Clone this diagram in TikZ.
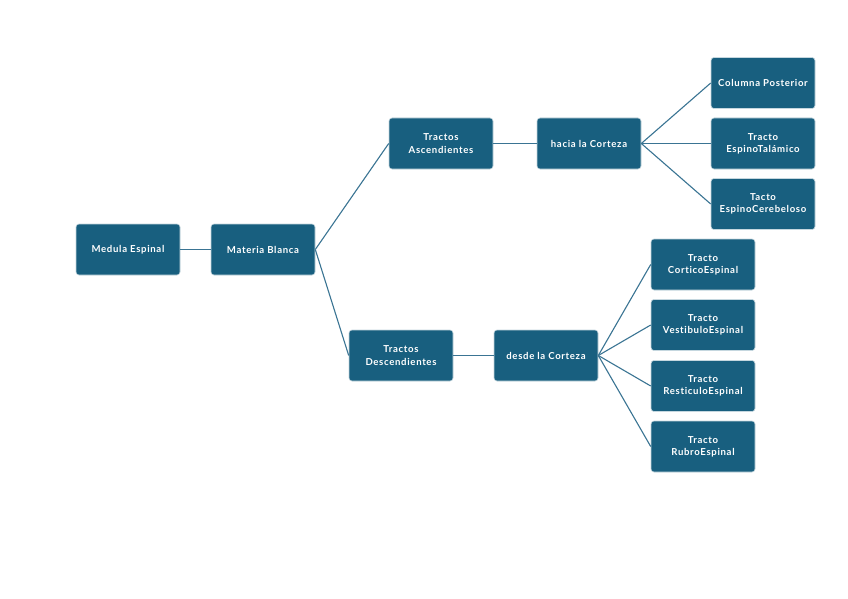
\documentclass[tikz,border=0pt]{standalone}
\usepackage{fontspec}
\setmainfont{Lato}
\newfontfamily\fuentecaja[LetterSpace=7,Ligatures={NoCommon,NoRare}]{Lato}
\usetikzlibrary{positioning}
\definecolor{fondocaja}{HTML}{185F7F}
\definecolor{trazo}{HTML}{3A7493}

\begin{document}
\begin{tikzpicture}[x=1pt, y=-1pt,
	bloque/.style={draw=white!75!fondocaja, line width=0.6pt, fill=fondocaja, rounded corners=3pt,
		minimum width=104pt, minimum height=51pt, inner sep=0pt, text=white, align=center,
		font=\fuentecaja\fontsize{9.6}{12.2}\selectfont\bfseries},
	rama/.style={draw=trazo, line width=1.1pt}]
	\fill[white] (0,0) rectangle (848,599);
	\useasboundingbox (0,0) rectangle (848,599);
	% tronco
	\node[bloque] (medula) at (128,249.5) {Medula Espinal};
	\node[bloque] (materia) at (263,249.5) {Materia Blanca};
	% ascendentes
	\node[bloque] (asc) at (441,143.5) {Tractos\\Ascendientes};
	\node[bloque] (hacia) at (589,143.5) {hacia la Corteza};
	\node[bloque] (colum) at (763,83) {Columna Posterior};
	\node[bloque] (talam) at (763,143.5) {Tracto\\EspinoTalámico};
	\node[bloque] (cereb) at (763,204) {Tacto\\EspinoCerebeloso};
	% descendentes
	\node[bloque] (desc) at (401,355.5) {Tractos\\Descendientes};
	\node[bloque] (desde) at (546,355.5) {desde la Corteza};
	\node[bloque] (cortic) at (703,264.5) {Tracto\\CorticoEspinal};
	\node[bloque] (vestib) at (703,325) {Tracto\\VestibuloEspinal};
	\node[bloque] (retic) at (703,386) {Tracto\\ResticuloEspinal};
	\node[bloque] (rubro) at (703,446.5) {Tracto\\RubroEspinal};
	\path[rama]
	(medula) edge (materia)
	(materia.east) edge (asc.west)
	(materia.east) edge (desc.west)
	(asc) edge (hacia)
	(desc) edge (desde);
	\foreach \hijo in {colum,talam,cereb}
		\draw[rama] (hacia.east) -- (\hijo.west);
	\foreach \hijo in {cortic,vestib,retic,rubro}
		\draw[rama] (desde.east) -- (\hijo.west);
\end{tikzpicture}
\end{document}
